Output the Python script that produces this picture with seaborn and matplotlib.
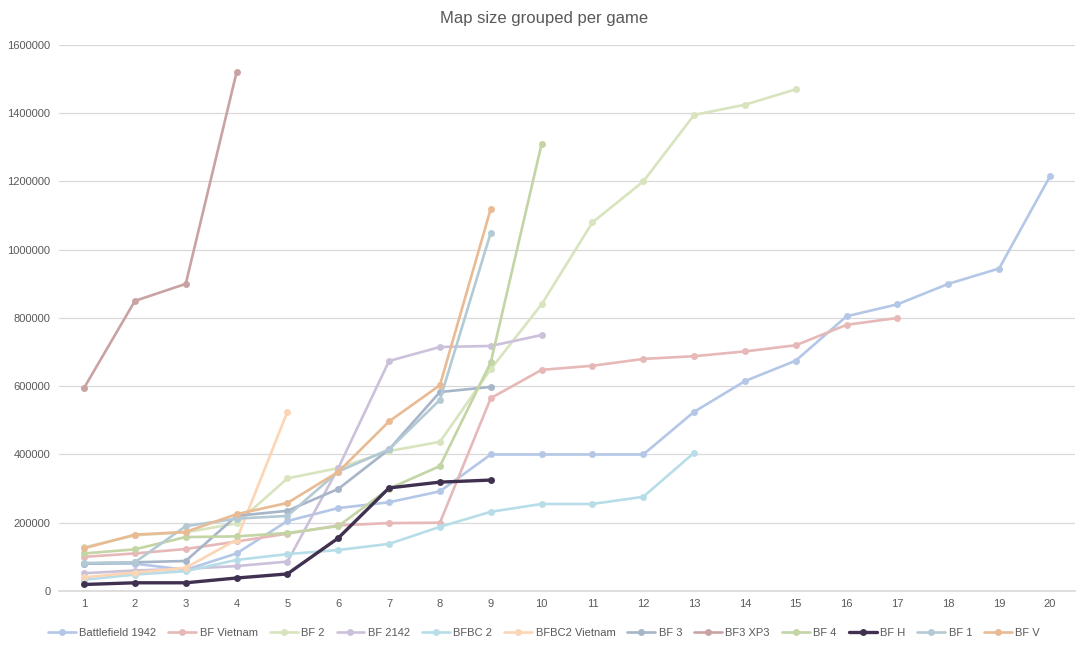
import pandas as pd
import matplotlib
matplotlib.use("Agg")
import matplotlib.pyplot as plt
import seaborn as sns

# Map sizes per game (index = map number)
games = ["Battlefield 1942", "BF Vietnam", "BF 2", "BF 2142", "BFBC 2", "BFBC2 Vietnam",
         "BF 3", "BF3 XP3", "BF 4", "BF H", "BF 1", "BF V"]

bf1942 = [80000, 80000, 62000, 110000, 205000, 243000, 260000, 292000, 400000, 400000,
          400000, 400000, 525000, 615000, 675000, 805000, 840000, 900000, 945000, 1215000]
bf_vietnam = [100000, 110000, 123000, 145000, 168000, 192000, 199000, 200000, 565000, 648000,
              660000, 680000, 688000, 702000, 720000, 780000, 800000]
bf2 = [128000, 163000, 172000, 198000, 330000, 360000, 410000, 437000, 650000, 840000,
       1080000, 1200000, 1395000, 1425000, 1470000]
bf2142 = [52000, 60000, 65000, 73000, 86000, 360000, 674000, 715000, 718000, 750000]
bfbc2 = [33000, 48000, 58000, 91000, 108000, 120000, 138000, 188000, 232000, 255000,
         255000, 276000, 405000]
bfbc2_vietnam = [40000, 54000, 68000, 150000, 525000]
bf3 = [80000, 84000, 88000, 220000, 235000, 299000, 415000, 583000, 598000]
bf3_xp3 = [595000, 850000, 900000, 1520000]
bf4 = [110000, 122000, 158000, 160000, 170000, 190000, 300000, 366000, 670000, 1310000]
bf_h = [19000, 24000, 24000, 38000, 50000, 155000, 302000, 319000, 325000]
bf1 = [82000, 84000, 190000, 212000, 220000, 350000, 415000, 560000, 1050000]
bf_v = [125000, 165000, 173000, 225000, 258000, 349000, 497000, 603000, 1120000]

series = [bf1942, bf_vietnam, bf2, bf2142, bfbc2, bfbc2_vietnam,
          bf3, bf3_xp3, bf4, bf_h, bf1, bf_v]
colors = ["#b4c7e7", "#e6b9b8", "#d7e4bd", "#ccc1da", "#b7dee8", "#fcd5b5",
          "#a7b5c9", "#c9a3a3", "#c3d4a5", "#403151", "#b3cad4", "#e9bb94"]

rows = []
for g, vals in zip(games, series):
    for i, v in enumerate(vals):
        rows.append({"game": g, "map": i + 1, "size": v})
df = pd.DataFrame(rows)

sns.set_theme(style="white")
plt.rcParams["font.family"] = ["Liberation Sans", "DejaVu Sans"]

fig = plt.figure(figsize=(10.88, 6.51), dpi=100)
ax = fig.add_axes([0.0539, 0.0922, 0.9345, 0.8387])

for g, c in zip(games, colors):
    lw = 2.4 if g == "BF H" else 1.9
    sns.lineplot(data=df[df["game"] == g], x="map", y="size", color=c, label=g,
                 marker="o", markersize=5, markeredgewidth=0, linewidth=lw,
                 sort=False, ax=ax)

ax.set_xlim(0.5, 20.5)
ax.set_ylim(0, 1600000)
ax.set_xticks(range(1, 21))
ax.set_yticks(range(0, 1600001, 200000))
ax.set_yticklabels([str(v) for v in range(0, 1600001, 200000)])
ax.grid(axis="y", color="#d9d9d9", linewidth=0.9)
ax.set_axisbelow(True)
for s in ["top", "right", "left"]:
    ax.spines[s].set_visible(False)
ax.spines["bottom"].set_color("#d9d9d9")
ax.tick_params(axis="both", labelsize=8, colors="#595959", length=0, pad=6)
ax.set_xlabel("")
ax.set_ylabel("")

fig.text(0.5, 0.972, "Map size grouped per game", ha="center", va="center",
         fontsize=12, color="#595959")

handles, labels = ax.get_legend_handles_labels()
ax.legend_.remove()
fig.legend(handles, labels, loc="center", bbox_to_anchor=(0.5, 0.028), ncol=12,
           frameon=False, fontsize=8, handlelength=2.5, handletextpad=0.3,
           columnspacing=1.1, labelcolor="#595959")

fig.savefig("out.png", dpi=100)
